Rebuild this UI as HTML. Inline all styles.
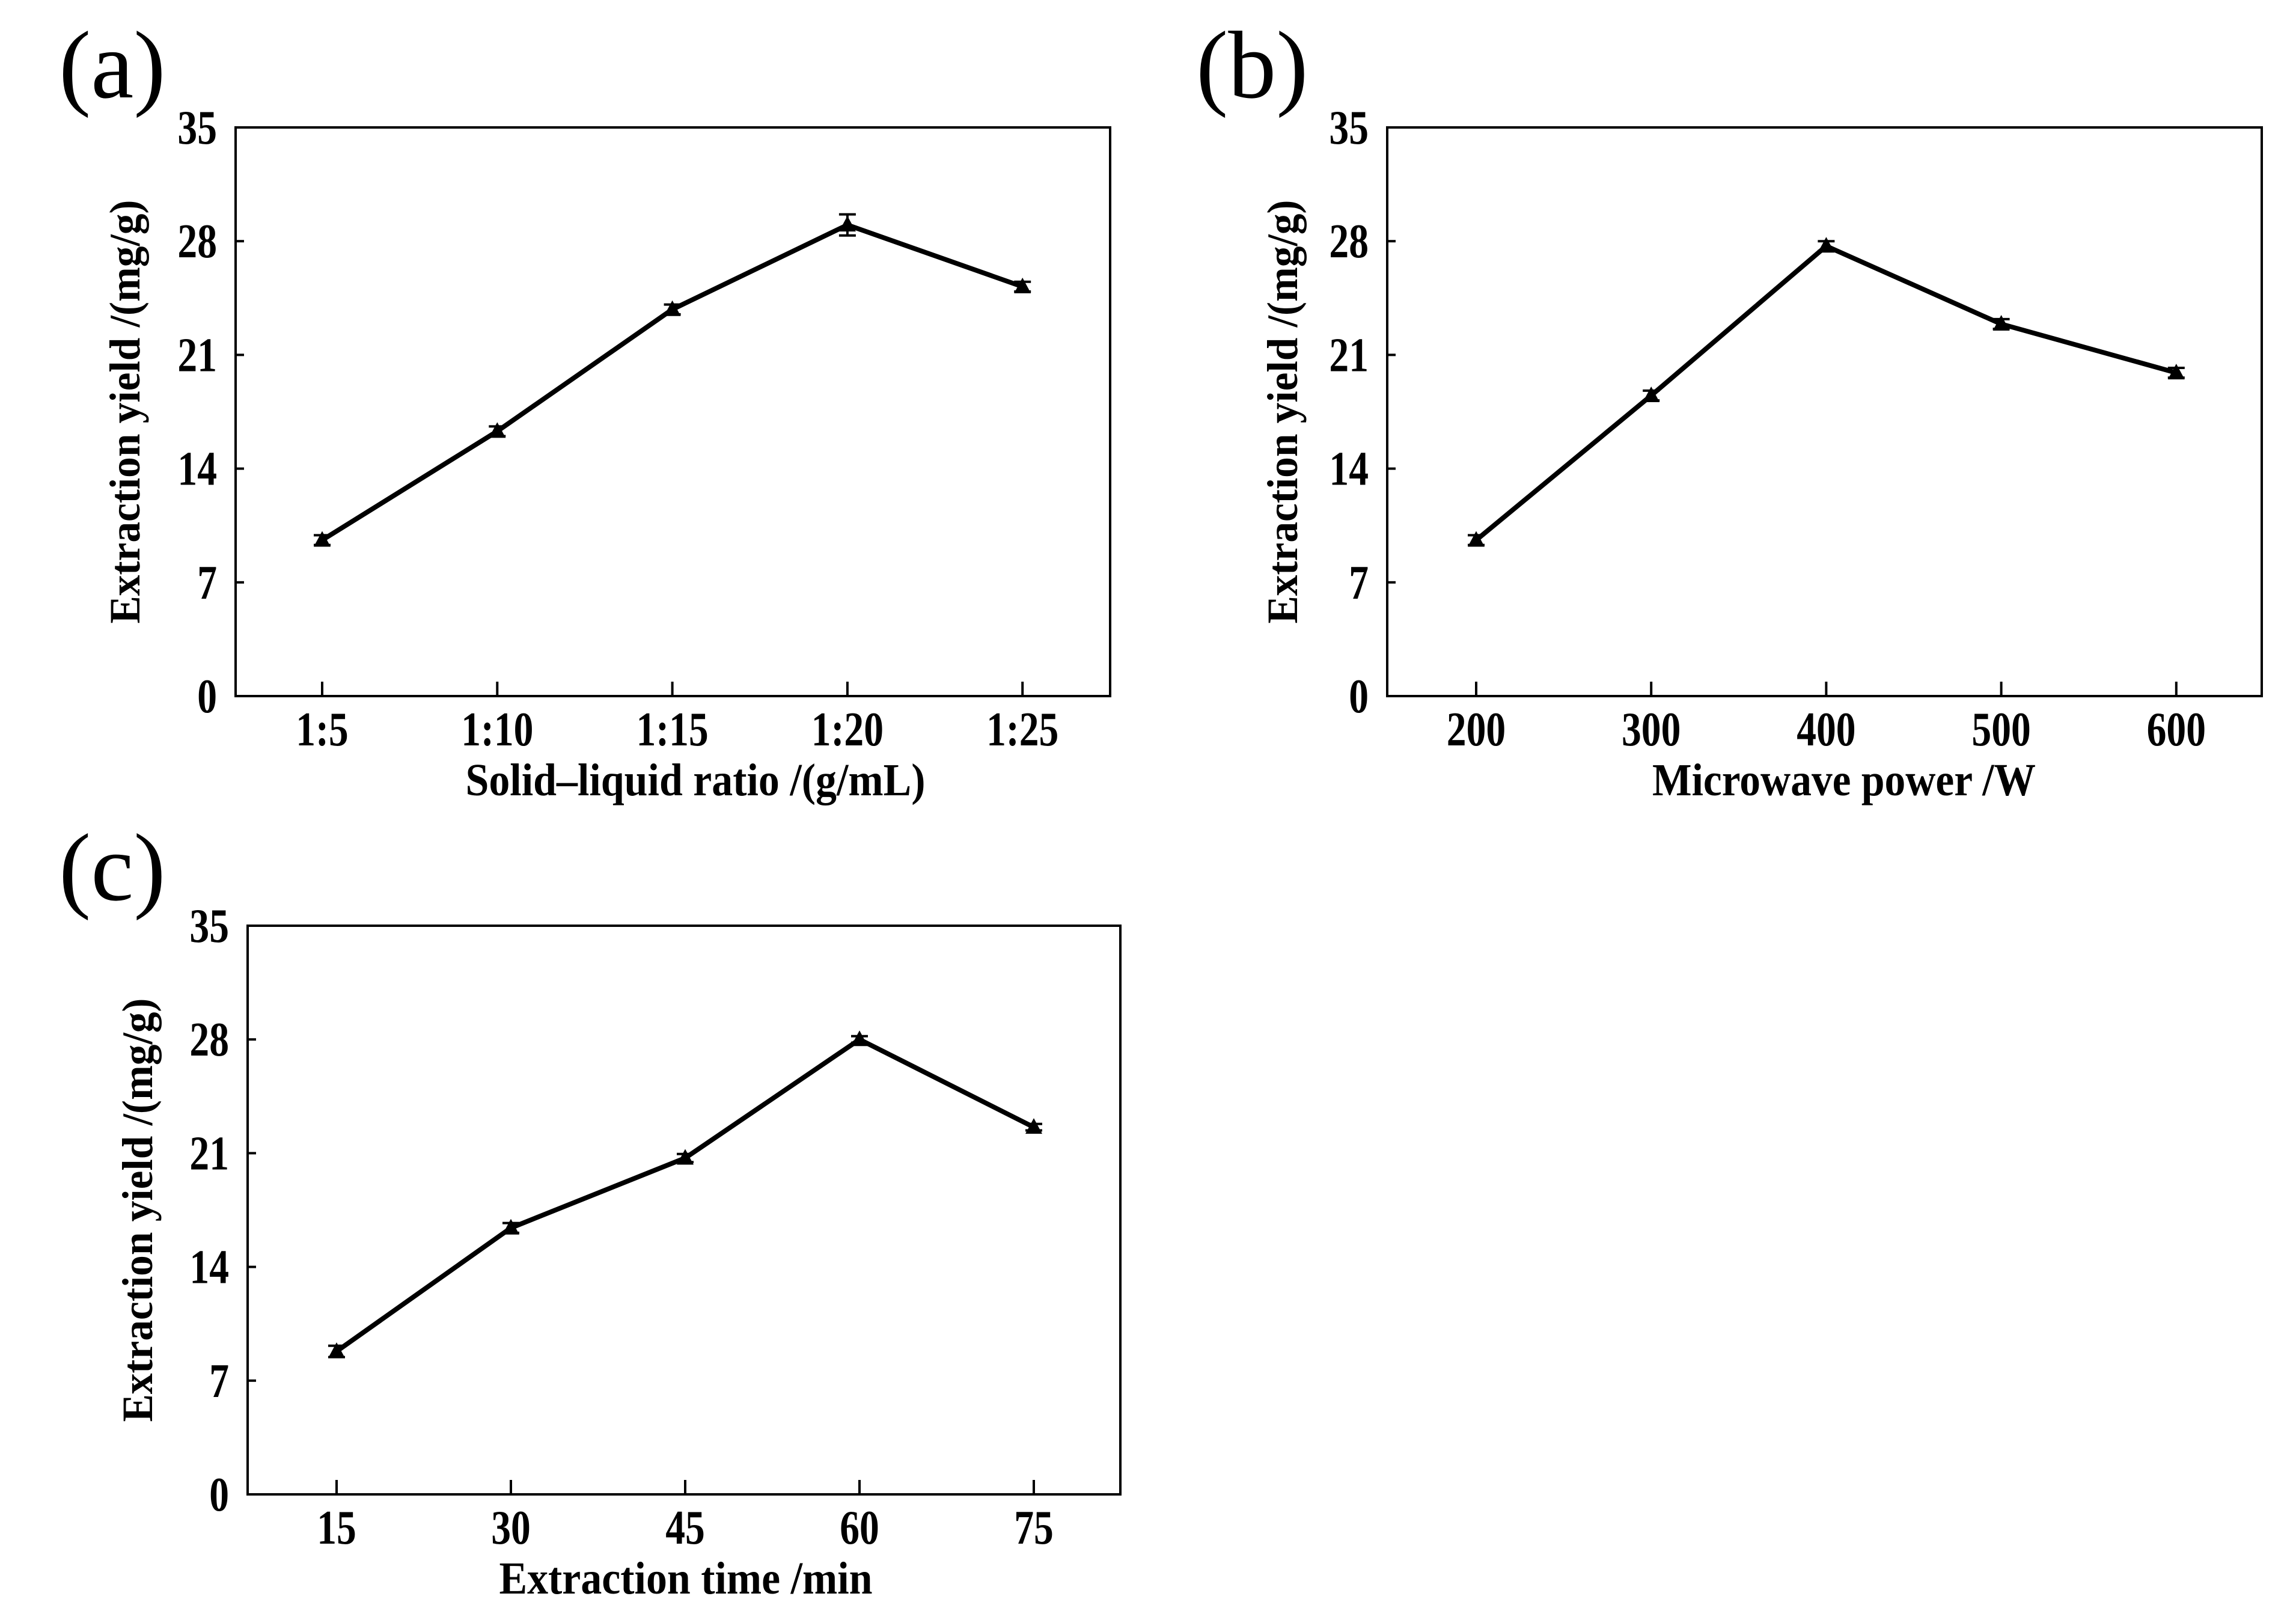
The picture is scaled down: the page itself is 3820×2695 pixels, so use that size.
<!DOCTYPE html>
<html><head><meta charset="utf-8"><style>
html,body{margin:0;padding:0;background:#fff;}
svg{display:block;}
text{font-family:"Liberation Serif",serif;fill:#000;}
</style></head><body>
<svg id="fig" width="3820" height="2695" viewBox="0 0 3820 2695" xmlns="http://www.w3.org/2000/svg"></svg>
<script>
const yTicks = [0, 7, 14, 21, 28, 35];
const catsA = ["1:5", "1:10", "1:15", "1:20", "1:25"];
const valsA = [9.6, 16.3, 23.8, 29.0, 25.2];
const errA = [0.3, 0.3, 0.3, 0.65, 0.3];
const catsB = ["200", "300", "400", "500", "600"];
const valsB = [9.6, 18.5, 27.7, 22.9, 19.9];
const errB = [0.3, 0.3, 0.3, 0.3, 0.3];
const catsC = ["15", "30", "45", "60", "75"];
const valsC = [8.8, 16.4, 20.7, 28.0, 22.6];
const errC = [0.35, 0.3, 0.25, 0.2, 0.2];

const NS = "http://www.w3.org/2000/svg";
const svg = document.getElementById("fig");
function mk(tag, attrs, parent) {
  const e = document.createElementNS(NS, tag);
  for (const k in attrs) e.setAttribute(k, attrs[k]);
  (parent || svg).appendChild(e);
  return e;
}

const panels = [
  {id:"a", L:392, R:1847, T:212, B:1158, x0:536, dx:291.3, cats:catsA, vals:valsA, err:errA,
   xt:"Solid\u2013liquid ratio /(g/mL)", xtX:1157, xtW:765, ytX:232, lbl:"(a)", lx:98, ly:162},
  {id:"b", L:2308, R:3763, T:212, B:1158, x0:2456, dx:291.2, cats:catsB, vals:valsB, err:errB,
   xt:"Microwave power /W", xtX:3068, xtW:638, ytX:2158, lbl:"(b)", lx:1990, ly:162},
  {id:"c", L:412, R:1864, T:1540, B:2486, x0:560, dx:290, cats:catsC, vals:valsC, err:errC,
   xt:"Extraction time /min", xtX:1141, xtW:621, ytX:253, lbl:"(c)", lx:98, ly:1497}
];

panels.forEach(p => {
  const g = mk("g", {});
  
  
  const ys = v => p.B - (v / 35) * (p.B - p.T);
  const xs = i => p.x0 + i * p.dx;

  const lab = mk("text", {x:p.lx, y:p.ly, "font-size":160}, g);
  lab.textContent = p.lbl;
  
  

  const box = mk("rect", {x:p.L, y:p.T, width:p.R-p.L, height:p.B-p.T, fill:"none", stroke:"#000", "stroke-width":4}, g);
  
  

  yTicks.forEach(t => {
    const y = ys(t);
    if (t > 0 && t < 35) mk("line", {x1:p.L, x2:p.L+14, y1:y, y2:y, stroke:"#000", "stroke-width":4}, g);
    const tx = mk("text", {x:0, y:0, "font-size":80, "font-weight":"bold", "text-anchor":"end", transform:"translate(" + (p.L-31) + "," + (y+27) + ") scale(0.82,1)"}, g);
    tx.textContent = t;
    
    
  });

  p.cats.forEach((c, i) => {
    const x = xs(i);
    mk("line", {x1:x, x2:x, y1:p.B, y2:p.B-24, stroke:"#000", "stroke-width":4}, g);
    const tx = mk("text", {x:0, y:0, "font-size":80, "font-weight":"bold", "text-anchor":"middle", transform:"translate(" + x + "," + (p.B+82) + ") scale(0.82,1)"}, g);
    tx.textContent = c;
    
    
  });

  const xt = mk("text", {x:p.xtX, y:p.B+165, "font-size":76, "font-weight":"bold", "text-anchor":"middle", textLength:p.xtW, lengthAdjust:"spacingAndGlyphs"}, g);
  xt.textContent = p.xt;
  
  

  const cy = (p.T + p.B) / 2;
  const yt = mk("text", {x:0, y:0, "font-size":72, "font-weight":"bold", "text-anchor":"middle", textLength:705, lengthAdjust:"spacingAndGlyphs", transform:"translate(" + p.ytX + "," + cy + ") rotate(-90)"}, g);
  yt.textContent = "Extraction yield /(mg/g)";
  
  

  const pts = p.vals.map((v, i) => xs(i) + "," + ys(v)).join(" ");
  const line = mk("polyline", {points:pts, fill:"none", stroke:"#000", "stroke-width":8, "stroke-linejoin":"round"}, g);
  
  

  p.vals.forEach((v, i) => {
    const x = xs(i), y = ys(v);
    const e = p.err[i];
    const eb = mk("path", {d:"M"+x+","+ys(v+e)+"V"+ys(v-e)+"M"+(x-14)+","+ys(v+e)+"H"+(x+14)+"M"+(x-14)+","+ys(v-e)+"H"+(x+14), stroke:"#000", "stroke-width":4, fill:"none"}, g);
    
    
    const m = mk("polygon", {points:(x)+","+(y-15)+" "+(x-14)+","+(y+11)+" "+(x+14)+","+(y+11), fill:"#000"}, g);
    
    
  });
});
</script>
</body></html>
